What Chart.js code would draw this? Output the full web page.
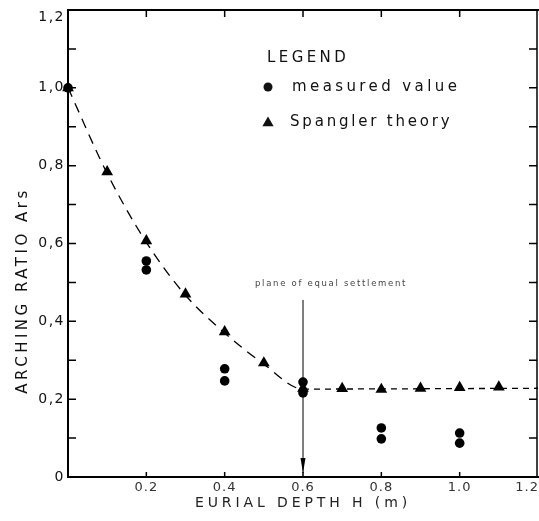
<!DOCTYPE html>
<html><head><meta charset="utf-8">
<script src="https://cdn.jsdelivr.net/npm/chart.js@4.4.1/dist/chart.umd.min.js"></script>
<style>html,body{margin:0;padding:0;background:#fff;}#wrap{width:539px;height:521px;}</style>
</head><body><div id="wrap"><canvas id="c" width="539" height="521"></canvas></div>
<script>
// ---- data ----
const xTickValues = [0.2, 0.4, 0.6, 0.8, 1.0, 1.2];
const xTickLabels = ['0.2', '0.4', '0.6', '0.8', '1.0', '1.2'];
const yTickValues = [0, 0.2, 0.4, 0.6, 0.8, 1.0, 1.2];
const yTickLabels = ['0', '0,2', '0,4', '0,6', '0,8', '1,0', '1,2'];
const yMinorTicks = [0.1, 0.2, 0.3, 0.4, 0.5, 0.6, 0.7, 0.8, 0.9, 1.0, 1.1];
const xMinorTicks = [0.2, 0.4, 0.6, 0.8, 1.0];

const theoryX = [0, 0.1, 0.2, 0.3, 0.4, 0.5, 0.6, 0.7, 0.8, 0.9, 1.0, 1.1];
const theoryY = [1.0, 0.784, 0.607, 0.47, 0.373, 0.293, 0.228, 0.227, 0.225, 0.228, 0.23, 0.231];

const measuredX = [0, 0.2, 0.2, 0.4, 0.4, 0.6, 0.6, 0.8, 0.8, 1.0, 1.0];
const measuredY = [1.0, 0.555, 0.532, 0.278, 0.247, 0.244, 0.216, 0.126, 0.098, 0.113, 0.087];

const curveX = [0, 0.1, 0.2, 0.3, 0.4, 0.5, 0.6, 1.2];
const curveY = [1.0, 0.78, 0.603, 0.467, 0.37, 0.29, 0.226, 0.228];

const seriesNames = ['measured value', 'Spangler theory'];
const legendTitle = 'LEGEND';
const xTitle = 'EURIAL DEPTH H (m)';
const yTitle = 'ARCHING RATIO Ars';
const annotationText = 'plane of equal settlement';
const settlementX = 0.6;
const settlementTop = 0.455;

const toPts = (xs, ys) => xs.map((x, i) => ({x, y: ys[i]}));
const FONT = "'DejaVu Sans', sans-serif";
const ZERO_PAD = () => ({left: 0, top: 0, right: 0, bottom: 0});

function wrap(scale, method, spacing, dy, tweak) {
  const key = '_w_' + method;
  if (scale[key]) return;
  const orig = scale[method];
  scale[method] = function (...args) {
    const ctx = this.ctx;
    if (tweak) tweak(this, args[0]);
    ctx.save();
    ctx.letterSpacing = spacing;
    if (dy) ctx.translate(0, dy);
    orig.apply(this, args);
    ctx.restore();
  };
  scale[key] = true;
}

const decor = {
  id: 'decor',
  afterLayout(chart) {
    // stretch the plot area to the right edge of the canvas, as in the reference
    const a = chart.chartArea, x = chart.scales.x;
    const target = chart.width - 1;
    if (a.right !== target) {
      a.right = target; a.width = a.right - a.left;
      x.right = target; x.width = x.right - x.left;
      x.configure();
      x._labelItems = null; x._gridLineItems = null;
    }
  },
  beforeDraw(chart) {
    const s = chart.scales;
    wrap(s.x, 'drawLabels', '1px', 0, (sc, area) => {
      const items = sc.getLabelItems(area);
      const last = items[items.length - 1];
      if (last && !last._t) { last.options.textAlign = 'right'; last.options.translation[0] += 1; last._t = true; }
    });
    wrap(s.x, 'drawTitle', '3.9px', 0);
    wrap(s.y, 'drawLabels', '1.5px', 0, (sc, area) => {
      const items = sc.getLabelItems(area);
      const last = items[items.length - 1];
      if (last && !last._t) { last.options.translation[1] += 7; last._t = true; }
    });
    wrap(s.y, 'drawTitle', '3.5px', 47);
  },
  beforeDatasetsDraw(chart) {
    const {ctx, chartArea: a, scales: {x, y}} = chart;
    ctx.save();
    ctx.strokeStyle = '#000';
    ctx.lineCap = 'square';
    ctx.lineWidth = 2;
    ctx.beginPath();
    ctx.moveTo(a.left, a.top); ctx.lineTo(a.left, a.bottom); ctx.lineTo(a.right, a.bottom);
    ctx.moveTo(a.left, a.top); ctx.lineTo(a.right, a.top);
    ctx.stroke();
    ctx.lineWidth = 1.5;
    ctx.beginPath();
    ctx.moveTo(a.right - 1, a.top); ctx.lineTo(a.right - 1, a.bottom);
    ctx.stroke();
    ctx.lineWidth = 1.5;
    ctx.lineCap = 'butt';
    ctx.beginPath();
    yMinorTicks.forEach(v => {
      const py = y.getPixelForValue(v);
      ctx.moveTo(a.left, py); ctx.lineTo(a.left + 8, py);
      ctx.moveTo(a.right - 1, py); ctx.lineTo(a.right - 9, py);
    });
    xMinorTicks.forEach(v => {
      const px = x.getPixelForValue(v);
      ctx.moveTo(px, a.top); ctx.lineTo(px, a.top + 7);
      ctx.moveTo(px, a.bottom); ctx.lineTo(px, a.bottom - 5);
    });
    ctx.stroke();
    const px = x.getPixelForValue(settlementX);
    ctx.lineWidth = 1;
    ctx.beginPath();
    ctx.moveTo(px, y.getPixelForValue(settlementTop));
    ctx.lineTo(px, a.bottom - 4);
    ctx.stroke();
    ctx.fillStyle = '#000';
    ctx.beginPath();
    ctx.moveTo(px - 2.5, a.bottom - 19);
    ctx.lineTo(px + 2.5, a.bottom - 19);
    ctx.lineTo(px, a.bottom - 4);
    ctx.closePath();
    ctx.fill();
    ctx.letterSpacing = '1.7px';
    ctx.font = '8.5px ' + FONT;
    ctx.fillStyle = '#444';
    ctx.textAlign = 'left';
    ctx.textBaseline = 'middle';
    ctx.fillText(annotationText, px - 48, y.getPixelForValue(0.497));
    ctx.restore();
  },
  afterDatasetsDraw(chart) {
    const {ctx, chartArea: a} = chart;
    const lx = a.left + 200;
    ctx.save();
    ctx.fillStyle = '#111';
    ctx.textBaseline = 'middle';
    ctx.textAlign = 'left';
    ctx.letterSpacing = '3.4px';
    ctx.font = '15px ' + FONT;
    ctx.fillText(legendTitle, lx - 1, a.top + 48);
    ctx.beginPath();
    ctx.arc(lx, a.top + 77, 4.5, 0, Math.PI * 2);
    ctx.fill();
    ctx.fillText(seriesNames[0], lx + 24, a.top + 77);
    const ty = a.top + 113, r = 6.5;
    ctx.beginPath();
    ctx.moveTo(lx, ty - r);
    ctx.lineTo(lx + r * 0.866, ty + r * 0.5);
    ctx.lineTo(lx - r * 0.866, ty + r * 0.5);
    ctx.closePath();
    ctx.fill();
    ctx.letterSpacing = '2.8px';
    ctx.fillText(seriesNames[1], lx + 22, a.top + 112);
    ctx.restore();
  }
};

new Chart(document.getElementById('c'), {
  type: 'scatter',
  data: {
    datasets: [
      {
        label: 'curve', type: 'line',
        data: toPts(curveX, curveY),
        borderColor: '#000', borderWidth: 1.3, pointRadius: 0, fill: false,
        cubicInterpolationMode: 'monotone',
        segment: { borderDash: c => c.p0.parsed.x >= 0.599 ? [6, 5] : [10, 7] },
        order: 3, clip: false
      },
      {
        label: seriesNames[0],
        data: toPts(measuredX, measuredY),
        pointStyle: 'circle', pointRadius: 4.8,
        backgroundColor: '#000', borderColor: '#000', borderWidth: 0,
        showLine: false, order: 1, clip: false
      },
      {
        label: seriesNames[1],
        data: toPts(theoryX, theoryY),
        pointStyle: 'triangle', pointRadius: 6.8,
        backgroundColor: '#000', borderColor: '#000', borderWidth: 0,
        showLine: false, order: 2, clip: false
      }
    ]
  },
  options: {
    responsive: false, animation: false, events: [],
    layout: { padding: { top: 10, right: 1, left: 0, bottom: 0 } },
    plugins: { legend: { display: false }, tooltip: { enabled: false } },
    scales: {
      x: {
        type: 'linear', min: 0, max: 1.2,
        afterBuildTicks: s => { s.ticks = xTickValues.map(v => ({value: v})); },
        afterFit: s => { s.height = 44; s.paddingRight = 0; s.paddingLeft = 0; s.getPadding = ZERO_PAD; },
        grid: { display: false, drawTicks: false },
        border: { display: false },
        ticks: {
          callback: (v, i) => xTickLabels[i],
          font: { family: FONT, size: 13 },
          color: '#333', padding: 3, maxRotation: 0, autoSkip: false
        },
        title: {
          display: true, text: xTitle,
          font: { family: FONT, size: 14 }, color: '#222',
          padding: { top: 0, bottom: 9 }
        }
      },
      y: {
        type: 'linear', min: 0, max: 1.2,
        afterBuildTicks: s => { s.ticks = yTickValues.map(v => ({value: v})); },
        afterFit: s => { s.width = 68; s.getPadding = ZERO_PAD; s.paddingTop = 0; s.paddingBottom = 0; },
        grid: { display: false, drawTicks: false },
        border: { display: false },
        ticks: {
          callback: (v, i) => yTickLabels[i],
          font: { family: FONT, size: 14 },
          color: '#111', padding: 3, autoSkip: false
        },
        title: {
          display: true, text: yTitle,
          font: { family: FONT, size: 15 }, color: '#111',
          padding: { top: 14, bottom: 0 }
        }
      }
    }
  },
  plugins: [decor]
});
</script>
</body></html>
